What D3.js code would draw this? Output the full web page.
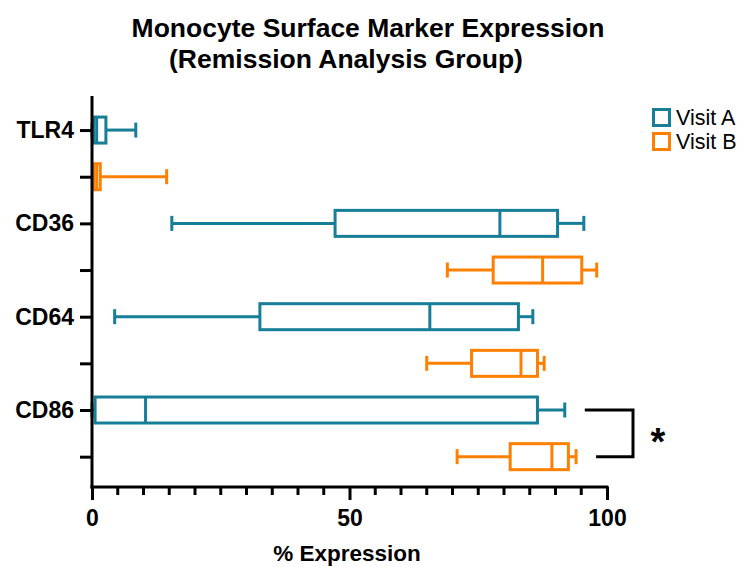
<!DOCTYPE html>
<html>
<head>
<meta charset="utf-8">
<script src="https://cdn.jsdelivr.net/npm/d3@7"></script>
<style>
  html, body { margin: 0; padding: 0; background: #fff; }
  svg { display: block; }
  text { font-family: "Liberation Sans", Arial, sans-serif; }
</style>
</head>
<body>
<svg id="chart" width="741" height="567"></svg>
<script>
// ---- Data ----
const markers = ["TLR4", "CD36", "CD64", "CD86"];
const visits = ["Visit A", "Visit B"];
const visitA_min    = [0.0, 15.5, 4.4, 0.0];
const visitA_q1     = [0.3, 47.2, 32.6, 0.6];
const visitA_median = [0.9, 79.2, 65.6, 10.4];
const visitA_q3     = [2.7, 90.4, 82.8, 86.5];
const visitA_max    = [8.5, 95.5, 85.6, 91.8];
const visitB_min    = [0.1, 69.0, 65.0, 70.9];
const visitB_q1     = [0.3, 77.9, 73.7, 81.2];
const visitB_median = [0.9, 87.5, 83.3, 89.3];
const visitB_q3     = [1.6, 95.1, 86.5, 92.5];
const visitB_max    = [14.5, 98.0, 87.8, 94.0];
const xTicks = [0, 50, 100];
const xMinorTicks = [5, 10, 15, 20, 25, 30, 35, 40, 45, 55, 60, 65, 70, 75, 80, 85, 90, 95];
const significance = [{marker: "CD86", label: "*"}];

const colors = {"Visit A": "#177E97", "Visit B": "#FF8000"};

// build rows
const rows = [];
markers.forEach((m, i) => {
  rows.push({marker: m, visit: "Visit A", idx: i * 2,
    min: visitA_min[i], q1: visitA_q1[i], med: visitA_median[i], q3: visitA_q3[i], max: visitA_max[i]});
  rows.push({marker: m, visit: "Visit B", idx: i * 2 + 1,
    min: visitB_min[i], q1: visitB_q1[i], med: visitB_median[i], q3: visitB_q3[i], max: visitB_max[i]});
});

const svg = d3.select("#chart");
const x = d3.scaleLinear().domain([0, 100]).range([92, 607]);
const y = d3.scaleLinear().domain([-0.73, 7.65]).range([96, 487]);

const boxH = 26, capH = 15, sw = 3;
const FONT = "Liberation Sans, Arial, sans-serif";

// Title
svg.append("text").attr("x", 368).attr("y", 37).attr("text-anchor", "middle")
  .attr("font-size", 26.5).attr("font-weight", "bold").text("Monocyte Surface Marker Expression");
svg.append("text").attr("x", 346).attr("y", 68).attr("text-anchor", "middle")
  .attr("font-size", 26.5).attr("font-weight", "bold").text("(Remission Analysis Group)");

// Boxes
const bx = svg.append("g").selectAll("g.box").data(rows).join("g").attr("class", "box")
  .attr("stroke", d => colors[d.visit]).attr("stroke-width", sw).attr("fill", "none");
bx.append("line").attr("x1", d => x(d.min)).attr("x2", d => x(d.q1))
  .attr("y1", d => y(d.idx)).attr("y2", d => y(d.idx));
bx.append("line").attr("x1", d => x(d.q3)).attr("x2", d => x(d.max))
  .attr("y1", d => y(d.idx)).attr("y2", d => y(d.idx));
bx.append("line").attr("x1", d => x(d.min)).attr("x2", d => x(d.min))
  .attr("y1", d => y(d.idx) - capH / 2).attr("y2", d => y(d.idx) + capH / 2);
bx.append("line").attr("x1", d => x(d.max)).attr("x2", d => x(d.max))
  .attr("y1", d => y(d.idx) - capH / 2).attr("y2", d => y(d.idx) + capH / 2);
bx.append("rect").attr("x", d => x(d.q1)).attr("width", d => x(d.q3) - x(d.q1))
  .attr("y", d => y(d.idx) - boxH / 2).attr("height", boxH).attr("fill", "#fff");
bx.append("line").attr("x1", d => x(d.med)).attr("x2", d => x(d.med))
  .attr("y1", d => y(d.idx) - boxH / 2).attr("y2", d => y(d.idx) + boxH / 2);

// X axis minor ticks
const yBase = y.range()[1];
svg.append("g").selectAll("line.minor").data(xMinorTicks).join("line").attr("class", "minor")
  .attr("x1", d => x(d)).attr("x2", d => x(d)).attr("y1", yBase).attr("y2", yBase + 8)
  .attr("stroke", "#000").attr("stroke-width", sw);
// X axis major
const xMajor = svg.append("g").attr("transform", `translate(0,${yBase})`)
  .call(d3.axisBottom(x).tickValues(xTicks).tickSize(13).tickSizeOuter(0).tickPadding(10));
xMajor.selectAll(".tick line").attr("stroke-width", sw).attr("stroke", "#000");
xMajor.select(".domain").attr("stroke-width", sw).attr("stroke", "#000")
  .attr("d", `M${x(0) - 1.5},0H${x(100) + 1.5}`);
xMajor.selectAll(".tick text").attr("font-size", 23).attr("font-weight", "bold")
  .attr("fill", "#000").attr("font-family", FONT);

// Y axis
const yAxisG = svg.append("g").attr("transform", `translate(${x(0)},0)`)
  .call(d3.axisLeft(y).tickValues(d3.range(0, 8)).tickSize(12).tickSizeOuter(0).tickPadding(6)
    .tickFormat(i => i % 2 === 0 ? markers[i / 2] : ""));
yAxisG.selectAll(".tick line").attr("stroke-width", sw).attr("stroke", "#000");
yAxisG.select(".domain").attr("stroke-width", sw).attr("stroke", "#000")
  .attr("d", `M0,${y.range()[0]}V${y.range()[1] + 1.5}`);
yAxisG.selectAll(".tick text").attr("font-size", 23).attr("font-weight", "bold")
  .attr("fill", "#000").attr("font-family", FONT);

// Axis title
svg.append("text").attr("x", 347).attr("y", 561).attr("text-anchor", "middle")
  .attr("font-size", 22.5).attr("font-weight", "bold").text("% Expression");

// Significance bracket
significance.forEach(s => {
  const i = markers.indexOf(s.marker);
  const rA = rows[i * 2], rB = rows[i * 2 + 1];
  const xr = 633;
  svg.append("path")
    .attr("d", `M${x(rA.max) + 20},${y(rA.idx)}H${xr}V${y(rB.idx)}H${x(rB.max) + 20}`)
    .attr("fill", "none").attr("stroke", "#000").attr("stroke-width", sw);
  svg.append("text").attr("x", 658).attr("y", (y(rA.idx) + y(rB.idx)) / 2 + 22)
    .attr("text-anchor", "middle").attr("font-size", 38).attr("font-weight", "bold").text(s.label);
});

// Legend
const leg = svg.append("g").attr("transform", "translate(652,108)");
visits.forEach((v, i) => {
  const lg = leg.append("g").attr("transform", `translate(0,${i * 24})`);
  lg.append("rect").attr("x", 1.5).attr("y", 1.5).attr("width", 16).attr("height", 16)
    .attr("fill", "#fff").attr("stroke", colors[v]).attr("stroke-width", sw);
  lg.append("text").attr("x", 24).attr("y", 17).attr("font-size", 21.5).attr("fill", "#000").text(v);
});
</script>
</body>
</html>
